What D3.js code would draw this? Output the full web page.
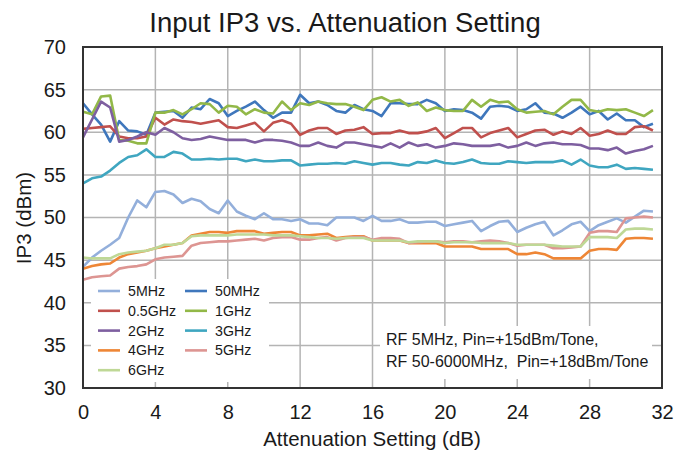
<!DOCTYPE html>
<html>
<head>
<meta charset="utf-8">
<script src="https://cdn.jsdelivr.net/npm/d3@7"></script>
<style>
  body { margin: 0; background: #fff; }
  text { font-family: "Liberation Sans", Arial, sans-serif; fill: #1a1a1a; }
</style>
</head>
<body>
<svg id="main_svg"></svg>
<script>
const WIDTH = 689;
const HEIGHT = 453;

// attenuation settings (dB)
const attenuation = [0, 0.5, 1, 1.5, 2, 2.5, 3, 3.5, 4, 4.5, 5, 5.5, 6, 6.5, 7, 7.5,
	8, 8.5, 9, 9.5, 10, 10.5, 11, 11.5, 12, 12.5, 13, 13.5, 14, 14.5, 15, 15.5,
	16, 16.5, 17, 17.5, 18, 18.5, 19, 19.5, 20, 20.5, 21, 21.5, 22, 22.5, 23, 23.5,
	24, 24.5, 25, 25.5, 26, 26.5, 27, 27.5, 28, 28.5, 29, 29.5, 30, 30.5, 31, 31.5];

const ip3_5mhz = [44.2, 45.3, 46.1, 46.8, 47.6, 50.0, 52.0, 51.2, 53.0, 53.1, 52.7, 51.7, 52.2, 51.9, 51.0, 50.5, 52.0,
	50.7, 50.2, 49.8, 50.5, 49.8, 49.8, 49.6, 49.8, 49.3, 49.3, 49.1, 50.0, 50.0, 50.0, 49.6, 50.2, 49.6, 49.6, 49.8, 49.4, 49.4, 49.5, 49.5, 49.0,
	49.2, 49.4, 49.6, 48.4, 49.0, 49.5, 49.6, 48.3, 48.8, 49.2, 49.5, 47.9, 48.5, 49.2, 49.5, 48.4, 49.1, 49.5, 49.9, 49.4, 50.1, 50.8, 50.7];
const ip3_50mhz = [63.4, 62.1, 60.9, 58.9, 61.3, 60.2, 60.1, 59.7, 62.3, 62.4, 62.5, 61.7, 62.9, 62.7, 63.9, 63.4, 61.9,
	62.5, 63.0, 63.6, 62.6, 61.7, 62.3, 62.3, 64.4, 63.4, 63.6, 63.2, 62.5, 62.3, 63.2, 62.7, 62.5,
	61.9, 63.4, 63.4, 63.3, 63.3, 63.8, 63.4, 62.5, 62.7, 62.6, 62.3, 61.6, 63.0, 63.1, 63.0, 62.5,
	62.7, 63.4, 62.3, 62.2, 61.7, 62.3, 63.0, 62.1, 62.5, 61.5, 62.2, 61.4, 61.4, 60.6, 61.0];
const ip3_05ghz = [60.4, 60.5, 60.6, 60.7, 59.5, 59.3, 59.3, 59.5, 61.7, 60.9, 61.5, 61.3, 61.2, 61.0, 61.2, 61.4, 60.6,
	60.5, 60.8, 61.1, 60.1, 61.1, 61.4, 61.0, 59.7, 60.2, 60.5, 60.5, 59.8, 60.2, 60.3, 60.6, 59.8,
	59.9, 59.9, 60.2, 59.9, 59.9, 60.1, 60.5, 59.3, 59.9, 60.5, 60.5, 59.4, 59.9, 60.2, 60.5, 59.4,
	59.8, 60.2, 60.3, 59.7, 60.1, 59.8, 60.5, 59.6, 59.8, 60.2, 59.8, 59.8, 60.6, 60.7, 60.2];
const ip3_1ghz = [62.4, 62.1, 64.2, 64.3, 59.1, 59.0, 58.7, 58.7, 62.3, 62.3, 62.6, 62.1, 62.7, 63.4, 63.3, 62.3, 63.1,
	63.0, 62.1, 62.7, 62.3, 62.2, 63.6, 62.6, 63.4, 63.2, 63.6, 63.4, 63.3, 63.3, 63.0, 62.6, 63.8,
	64.1, 63.6, 63.8, 63.1, 63.5, 62.5, 62.9, 62.6, 62.5, 62.5, 63.8, 63.0, 63.8, 63.5, 63.6, 62.7,
	62.3, 62.4, 62.5, 62.1, 63.0, 63.8, 63.8, 62.6, 62.4, 62.7, 62.6, 62.7, 62.3, 61.9, 62.6];
const ip3_2ghz = [59.4, 61.5, 63.6, 62.9, 58.9, 59.1, 59.5, 60.0, 59.7, 60.5, 60.0, 59.3, 59.1, 59.2, 59.5, 59.3, 59.1,
	59.1, 59.1, 58.8, 59.1, 59.1, 59.0, 58.8, 58.4, 58.4, 58.8, 58.4, 58.2, 58.8, 58.8, 58.6, 58.4,
	58.2, 58.7, 58.2, 58.8, 58.4, 58.6, 58.2, 58.4, 58.7, 58.6, 58.4, 58.4, 58.4, 58.6, 58.2, 58.4,
	58.8, 58.4, 58.7, 58.8, 58.6, 58.6, 58.5, 58.1, 58.1, 57.9, 58.2, 57.5, 57.8, 58.0, 58.4];
const ip3_3ghz = [54.0, 54.6, 54.8, 55.5, 56.4, 57.1, 57.3, 58.0, 57.1, 57.1, 57.7, 57.5, 56.8, 56.8, 56.9, 56.8, 56.9,
	56.9, 56.6, 56.8, 56.6, 56.6, 56.7, 56.7, 56.1, 56.2, 56.3, 56.3, 56.4, 56.3, 56.6, 56.4, 56.2,
	56.4, 56.4, 56.2, 56.1, 56.5, 56.4, 56.7, 56.4, 56.3, 56.5, 56.8, 56.4, 56.3, 56.3, 56.6, 56.5,
	56.4, 56.5, 56.5, 56.5, 56.7, 56.2, 56.8, 56.1, 55.9, 55.9, 56.2, 55.7, 55.8, 55.7, 55.6];
const ip3_4ghz = [44.0, 44.3, 44.5, 44.6, 45.3, 45.7, 45.9, 46.1, 46.4, 46.6, 46.8, 47.0, 47.9, 48.1, 48.3, 48.3, 48.2,
	48.4, 48.4, 48.4, 48.1, 48.2, 48.3, 48.3, 47.9, 47.9, 48.0, 48.1, 47.6, 47.7, 47.8, 47.8, 47.3, 47.3, 47.3, 47.3, 47.0, 47.0, 47.0, 47.0, 46.6,
	46.6, 46.6, 46.6, 46.3, 46.3, 46.3, 46.3, 45.7, 45.7, 45.9, 45.7, 45.2, 45.2, 45.2, 45.2, 46.1, 46.3, 46.3, 46.2, 47.5, 47.6, 47.6, 47.5];
const ip3_5ghz = [42.7, 43.0, 43.1, 43.2, 44.0, 44.2, 44.3, 44.5, 45.1, 45.3, 45.4, 45.5, 46.7, 47.0, 47.1, 47.2, 47.2,
	47.3, 47.4, 47.5, 47.3, 47.6, 47.7, 47.7, 47.4, 47.4, 47.6, 47.7, 47.3, 47.6, 47.7, 47.7, 47.4, 47.6, 47.6, 47.5, 47.0, 47.1, 47.2, 47.2, 47.1,
	47.2, 47.2, 47.1, 47.2, 47.3, 47.2, 47.0, 46.7, 46.8, 46.8, 46.8, 46.4, 46.4, 46.5, 46.6, 48.2, 48.4, 48.4, 48.3, 49.9, 50.0, 50.1, 50.0];
const ip3_6ghz = [45.3, 45.2, 45.2, 45.2, 45.7, 45.9, 46.0, 46.1, 46.4, 46.8, 46.8, 47.0, 47.8, 47.9, 47.9, 47.9, 47.9,
	48.0, 48.0, 48.0, 48.0, 47.9, 47.9, 47.9, 47.8, 47.7, 47.6, 47.6, 47.5, 47.6, 47.6, 47.6, 47.3, 47.3, 47.3, 47.3, 47.1, 47.2, 47.2, 47.2, 47.0,
	47.1, 47.1, 47.1, 47.0, 47.0, 47.0, 47.0, 46.8, 46.8, 46.8, 46.8, 46.7, 46.6, 46.6, 46.6, 47.7, 47.7, 47.7, 47.6, 48.6, 48.7, 48.7, 48.6];

const series_names = ['5MHz', '50MHz', '0.5GHz', '1GHz', '2GHz', '3GHz', '4GHz', '5GHz', '6GHz'];
const series_values = [ip3_5mhz, ip3_50mhz, ip3_05ghz, ip3_1ghz, ip3_2ghz, ip3_3ghz, ip3_4ghz, ip3_5ghz, ip3_6ghz];
const series_colors = ['#93AFDB', '#3F77BC', '#C0504D', '#92B848', '#7E5FA0', '#3FA6C0', '#EE8636', '#DD9592', '#BFD896'];

const x_ticks = [0, 4, 8, 12, 16, 20, 24, 28, 32];
const y_ticks = [30, 35, 40, 45, 50, 55, 60, 65, 70];

const PLOT = {left: 83, right: 662, top: 47, bottom: 388};
const FONT = '"Liberation Sans", Arial, sans-serif';

const svg = d3.select('#main_svg').attr('width', WIDTH).attr('height', HEIGHT);

const x_scale = d3.scaleLinear().domain([0, 32]).range([PLOT.left, PLOT.right]);
const y_scale = d3.scaleLinear().domain([30, 70]).range([PLOT.bottom, PLOT.top]);

// title
svg.append('text')
	.attr('x', 345).attr('y', 32)
	.attr('text-anchor', 'middle')
	.attr('font-size', '27.5px')
	.text('Input IP3 vs. Attenuation Setting');

// grid
svg.append('g').selectAll('line.vgrid')
	.data(x_ticks.slice(1, -1))
	.enter().append('line')
	.attr('x1', d => x_scale(d)).attr('x2', d => x_scale(d))
	.attr('y1', PLOT.top).attr('y2', PLOT.bottom)
	.style('stroke', '#b4b4b4').style('stroke-width', '1.5px');

svg.append('g').selectAll('line.hgrid')
	.data(y_ticks.slice(1, -1))
	.enter().append('line')
	.attr('x1', PLOT.left).attr('x2', PLOT.right)
	.attr('y1', d => y_scale(d)).attr('y2', d => y_scale(d))
	.style('stroke', '#b4b4b4').style('stroke-width', '1.5px');

// axes (labels only, the frame draws the lines)
const x_axis = svg.append('g')
	.attr('transform', `translate(0,${PLOT.bottom})`)
	.call(d3.axisBottom(x_scale).tickValues(x_ticks).tickSize(0).tickPadding(17));
const y_axis = svg.append('g')
	.attr('transform', `translate(${PLOT.left},0)`)
	.call(d3.axisLeft(y_scale).tickValues(y_ticks).tickSize(0).tickPadding(17));
[x_axis, y_axis].forEach(a => {
	a.select('.domain').remove();
	a.selectAll('text')
		.attr('font-size', '20px')
		.attr('font-family', FONT)
		.attr('fill', '#1a1a1a');
});

// lines
const line = d3.line()
	.x((d, i) => x_scale(attenuation[i]))
	.y(d => y_scale(d));

series_values.forEach((vals, i) => {
	svg.append('path')
		.datum(vals)
		.attr('d', line)
		.style('fill', 'none')
		.style('stroke', series_colors[i])
		.style('stroke-width', '2.6px')
		.style('stroke-linejoin', 'round');
});

// legend
const legend = svg.append('g');
legend.append('rect')
	.attr('x', 91).attr('y', 279).attr('width', 178).attr('height', 103)
	.style('fill', '#fff');
series_names.forEach((name, i) => {
	const col = i % 2, row = Math.floor(i / 2);
	const lx = 98 + col * 87, ly = 291 + row * 19.8;
	legend.append('line')
		.attr('x1', lx).attr('x2', lx + 22)
		.attr('y1', ly).attr('y2', ly)
		.style('stroke', series_colors[i]).style('stroke-width', '2.6px');
	legend.append('text')
		.attr('x', lx + 30).attr('y', ly)
		.attr('dominant-baseline', 'central')
		.attr('font-size', '14.2px')
		.text(name);
});

// annotation
const note = svg.append('g');
note.append('rect')
	.attr('x', 380).attr('y', 326).attr('width', 272).attr('height', 53)
	.style('fill', '#fff');
note.append('text').attr('x', 386).attr('y', 345).attr('font-size', '16px')
	.text('RF 5MHz, Pin=+15dBm/Tone,');
note.append('text').attr('x', 386).attr('y', 367).attr('font-size', '16px')
	.attr('xml:space', 'preserve')
	.text('RF 50-6000MHz,  Pin=+18dBm/Tone');

// frame
svg.append('rect')
	.attr('x', PLOT.left).attr('y', PLOT.top)
	.attr('width', PLOT.right - PLOT.left).attr('height', PLOT.bottom - PLOT.top)
	.style('fill', 'none').style('stroke', '#333').style('stroke-width', '2px');

// axis titles
svg.append('text')
	.attr('x', 372).attr('y', 446)
	.attr('text-anchor', 'middle')
	.attr('font-size', '20.5px')
	.text('Attenuation Setting (dB)');
svg.append('text')
	.attr('transform', 'translate(31,218) rotate(-90)')
	.attr('text-anchor', 'middle')
	.attr('font-size', '20.5px')
	.text('IP3 (dBm)');
</script>
</body>
</html>
